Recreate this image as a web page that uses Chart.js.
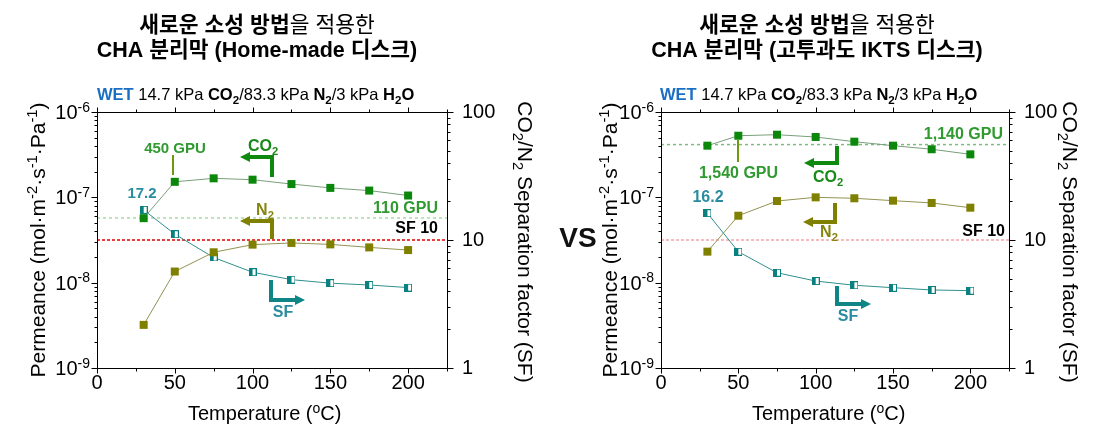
<!DOCTYPE html>
<html><head><meta charset="utf-8">
<script src="https://cdn.jsdelivr.net/npm/chart.js@4.4.1/dist/chart.umd.min.js"></script>
<style>
html,body{margin:0;padding:0;background:#fff;width:1107px;height:431px;overflow:hidden;}
canvas{position:absolute;top:0;}
#cL{left:0;}
#cR{left:560px;}
#vs{position:absolute;left:540px;top:222px;width:76px;text-align:center;font:bold 28px 'Liberation Sans',Arial,sans-serif;color:#111;}
</style></head>
<body>
<canvas id="cL" width="560" height="431"></canvas>
<canvas id="cR" width="547" height="431"></canvas>
<div id="vs">VS</div>
<script>
// ---------------- data ----------------
const temperatures = [30, 50, 75, 100, 125, 150, 175, 200];
// Home-made disc (left)
const homeCO2 = [5.7e-8, 1.52e-7, 1.67e-7, 1.61e-7, 1.43e-7, 1.29e-7, 1.20e-7, 1.05e-7];
const homeN2  = [3.2e-9, 1.35e-8, 2.27e-8, 2.79e-8, 2.92e-8, 2.81e-8, 2.59e-8, 2.41e-8];
const homeSF  = [17.2, 11.1, 7.3, 5.6, 4.9, 4.6, 4.45, 4.25];
// High-permeance IKTS disc (right)
const iktsCO2 = [4.03e-7, 5.27e-7, 5.42e-7, 5.09e-7, 4.49e-7, 4.03e-7, 3.66e-7, 3.19e-7];
const iktsN2  = [2.31e-8, 6.09e-8, 9.06e-8, 1.0e-7, 9.75e-8, 9.14e-8, 8.59e-8, 7.56e-8];
const iktsSF  = [16.2, 8.1, 5.55, 4.78, 4.43, 4.24, 4.07, 4.02];
// reference lines
const homeCO2Ref = 5.73e-8;
const iktsCO2Ref = 4.15e-7;
const sfRef = 10;
// ticks
const xTickValues = [0, 50, 100, 150, 200];
const xTickLabels = ['0', '50', '100', '150', '200'];
const permTickExps = [-9, -8, -7, -6];
const sfTickValues = [1, 10, 100];
const sfTickLabels = ['1', '10', '100'];
const xMax = 225;

// ---------------- helpers ----------------
const FAM = "'Liberation Sans', Arial, 'Noto Sans CJK KR', sans-serif";
function fnt(size, b) { return (b ? 'bold ' : '') + size + 'px ' + FAM; }
function drawRuns(ctx, runs, x, y, size, align, color) {
  const items = runs.map(r => {
    const sz = r.s ? size * 0.7 : size;
    const f = fnt(sz, r.b);
    ctx.font = f;
    return { r, f, w: ctx.measureText(r.t).width,
      dy: r.s === 'sub' ? size * 0.22 : r.s === 'sup' ? -size * 0.36 : 0 };
  });
  const W = items.reduce((s, i) => s + i.w, 0);
  let cx = align === 'center' ? x - W / 2 : align === 'right' ? x - W : x;
  ctx.textAlign = 'left'; ctx.textBaseline = 'alphabetic';
  for (const it of items) {
    ctx.font = it.f; ctx.fillStyle = it.r.c || color;
    ctx.fillText(it.r.t, cx, y + it.dy); cx += it.w;
  }
  return W;
}
function drawArrow(ctx, a, L, T) {
  const x = L + a.x, y0 = T + a.y0, y1 = T + a.y1, tip = L + a.tip;
  const dir = Math.sign(tip - x), head = 10, hw = 5;
  ctx.save();
  ctx.strokeStyle = a.c; ctx.fillStyle = a.c; ctx.lineWidth = 4;
  ctx.lineJoin = 'miter'; ctx.lineCap = 'butt';
  ctx.beginPath(); ctx.moveTo(x, y0); ctx.lineTo(x, y1); ctx.lineTo(tip - dir * head, y1); ctx.stroke();
  ctx.beginPath(); ctx.moveTo(tip, y1); ctx.lineTo(tip - dir * head, y1 - hw); ctx.lineTo(tip - dir * head, y1 + hw);
  ctx.closePath(); ctx.fill();
  ctx.restore();
}
function makeSFMarker() {
  const c = document.createElement('canvas'); c.width = 8; c.height = 8;
  const g = c.getContext('2d');
  g.fillStyle = '#0a8080'; g.fillRect(0, 0, 8, 8);
  g.fillStyle = '#ffffff'; g.fillRect(4, 1, 3, 6);
  return c;
}
const sfMarker = makeSFMarker();

const COL = {
  co2: '#0b870b', n2: '#808000', sf: '#0a8080',
  co2Line: '#7a9e7a', n2Line: '#929250', sfLine: '#2f8f8f',
  gpuText: '#2f9a2f', sfText: '#2a8ca0', co2Text: '#1a8a1a', n2Text: '#858510',
  co2Arrow: '#0f8a0f', n2Arrow: '#7f7f00', sfArrow: '#108585', callout: '#6c9a0a'
};

function makeDecor(cfg) {
  return {
    id: 'decor',
    afterDraw(chart) {
      const ctx = chart.ctx, a = chart.chartArea;
      const xs = chart.scales.x, yl = chart.scales.yL, yr = chart.scales.yR;
      const L = a.left, R = a.right, T = a.top, B = a.bottom;
      const px = v => Math.round(v) + 0.5;
      ctx.save();
      // frame & ticks
      ctx.strokeStyle = '#000'; ctx.lineWidth = 1;
      ctx.beginPath();
      ctx.rect(px(L), px(T), Math.round(R) - Math.round(L), Math.round(B) - Math.round(T));
      for (let v = 0; v <= xMax; v += 25) {
        const X = px(xs.getPixelForValue(v)), len = v % 50 === 0 ? 5 : 3;
        ctx.moveTo(X, px(B)); ctx.lineTo(X, px(B) + len);
        ctx.moveTo(X, px(T)); ctx.lineTo(X, px(T) - len);
      }
      for (let e = -9; e <= -6; e++) {
        for (let m = 1; m <= 9; m++) {
          if (e === -6 && m > 1) break;
          const Y = px(yl.getPixelForValue(m * Math.pow(10, e))), len = m === 1 ? 6 : 3;
          ctx.moveTo(px(L), Y); ctx.lineTo(px(L) - len, Y);
        }
      }
      for (let e = 0; e <= 2; e++) {
        for (let m = 1; m <= 9; m++) {
          if (e === 2 && m > 1) break;
          const Y = px(yr.getPixelForValue(m * Math.pow(10, e))), len = m === 1 ? 6 : 3;
          ctx.moveTo(px(R), Y); ctx.lineTo(px(R) + len, Y);
        }
      }
      ctx.stroke();
      // left tick labels 10^n
      for (const e of permTickExps) {
        const Y = yl.getPixelForValue(Math.pow(10, e));
        drawRuns(ctx, [{ t: '10' }, { t: String(e), s: 'sup' }], L - 7, Y + 7, 20, 'right', '#000');
      }
      // titles
      drawRuns(ctx, cfg.title1, cfg.titleX, 32, 21.5, 'center', '#000');
      drawRuns(ctx, cfg.title2, cfg.titleX, 57, 21.5, 'center', '#000');
      drawRuns(ctx, [
        { t: 'WET', b: 1, c: '#1a6fc4' }, { t: ' 14.7 kPa ' }, { t: 'CO', b: 1 }, { t: '2', b: 1, s: 'sub' },
        { t: '/83.3 kPa ' }, { t: 'N', b: 1 }, { t: '2', b: 1, s: 'sub' }, { t: '/3 kPa ' },
        { t: 'H', b: 1 }, { t: '2', b: 1, s: 'sub' }, { t: 'O', b: 1 }
      ], L + cfg.subX, 100, 16.5, 'left', '#000');
      // x title
      drawRuns(ctx, [{ t: 'Temperature (' }, { t: 'o', s: 'sup' }, { t: 'C)' }], L + 91, 420, 20, 'left', '#000');
      // left y title
      ctx.save();
      ctx.translate(L + cfg.yLTitleX, (T + B) / 2);
      ctx.rotate(-Math.PI / 2);
      drawRuns(ctx, [{ t: 'Permeance (mol·m' }, { t: '-2', s: 'sup' }, { t: '·s' }, { t: '-1', s: 'sup' },
        { t: '·Pa' }, { t: '-1', s: 'sup' }, { t: ')' }], 0, 0, 21, 'center', '#000');
      ctx.restore();
      // right y title
      ctx.save();
      ctx.translate(R + cfg.yRTitleX, (T + B) / 2 + 2);
      ctx.rotate(Math.PI / 2);
      drawRuns(ctx, [{ t: 'CO' }, { t: '2', s: 'sub' }, { t: '/N' }, { t: '2', s: 'sub' },
        { t: ' Separation factor (SF)' }], 0, 0, 21, 'center', '#000');
      ctx.restore();
      // annotations
      for (const c of cfg.callouts) {
        ctx.strokeStyle = c.c; ctx.lineWidth = 2;
        ctx.beginPath(); ctx.moveTo(L + c.x, T + c.y0); ctx.lineTo(L + c.x, T + c.y1); ctx.stroke();
      }
      for (const ar of cfg.arrows) drawArrow(ctx, ar, L, T);
      for (const lb of cfg.labels) drawRuns(ctx, lb.runs, L + lb.x, T + lb.y, lb.size || 15, lb.align || 'center', lb.c);
      ctx.restore();
    }
  };
}

function buildChart(id, co2, n2, sf, co2Ref, refColors, geom, cfg) {
  const pts = arr => temperatures.map((t, i) => ({ x: t, y: arr[i] }));
  return new Chart(document.getElementById(id), {
    type: 'line',
    data: {
      datasets: [
        { data: pts(co2), yAxisID: 'yL', borderColor: COL.co2Line, borderWidth: 1, pointStyle: 'rect',
          pointRadius: 5.66, pointBackgroundColor: COL.co2, pointBorderWidth: 0, tension: 0 },
        { data: pts(n2), yAxisID: 'yL', borderColor: COL.n2Line, borderWidth: 1, pointStyle: 'rect',
          pointRadius: 5.66, pointBackgroundColor: COL.n2, pointBorderWidth: 0, tension: 0 },
        { data: pts(sf), yAxisID: 'yR', borderColor: COL.sfLine, borderWidth: 1, pointStyle: sfMarker,
          pointRadius: 4, pointBorderWidth: 0, tension: 0 },
        { data: [{ x: 0, y: co2Ref }, { x: xMax, y: co2Ref }], yAxisID: 'yL', borderColor: refColors[0],
          borderWidth: 1.5, borderDash: [3, 3], pointRadius: 0 },
        { data: [{ x: 0, y: sfRef }, { x: xMax, y: sfRef }], yAxisID: 'yR', borderColor: refColors[1],
          borderWidth: 1.5, borderDash: [3, 2], pointRadius: 0 }
      ]
    },
    options: {
      responsive: false, animation: false, events: [],
      layout: { padding: { top: 112, left: 0, right: 0, bottom: 0 } },
      plugins: { legend: { display: false }, tooltip: { enabled: false } },
      scales: {
        x: { type: 'linear', min: 0, max: xMax,
          grid: { display: false, drawTicks: false }, border: { display: false },
          afterBuildTicks: s => { s.ticks = xTickValues.map(v => ({ value: v })); },
          ticks: { color: '#000', font: { family: FAM, size: 20 }, padding: 3, maxRotation: 0,
            callback: (v, i) => xTickLabels[i] },
          afterFit: s => { s.height = 63; } },
        yL: { type: 'logarithmic', position: 'left', min: 1e-9, max: 1e-6,
          grid: { display: false, drawTicks: false }, border: { display: false },
          ticks: { display: false },
          afterFit: s => { s.width = geom.yL; } },
        yR: { type: 'logarithmic', position: 'right', min: 1, max: 100,
          grid: { display: false, drawTicks: false }, border: { display: false },
          afterBuildTicks: s => { s.ticks = sfTickValues.map(v => ({ value: v })); },
          ticks: { color: '#000', font: { family: FAM, size: 20 }, padding: 15,
            callback: (v, i) => sfTickLabels[i] },
          afterFit: s => { s.width = geom.yR; } }
      }
    },
    plugins: [makeDecor(cfg)]
  });
}

// left chart
buildChart('cL', homeCO2, homeN2, homeSF, homeCO2Ref, ['#a6dca6', '#e00000'], { yL: 97, yR: 113 }, {
  titleX: 257, subX: 0, yLTitleX: -52, yRTitleX: 71,
  title1: [{ t: '새로운 소성 방법', b: 1 }, { t: '을 적용한' }],
  title2: [{ t: 'CHA 분리막 (Home-made 디스크)', b: 1 }],
  arrows: [
    { x: 175, y0: 65, y1: 45, tip: 143, c: COL.co2Arrow },
    { x: 175, y0: 127, y1: 109, tip: 143, c: COL.n2Arrow },
    { x: 174, y0: 168, y1: 188, tip: 208, c: COL.sfArrow }
  ],
  callouts: [{ x: 76, y0: 43, y1: 63, c: COL.callout }],
  labels: [
    { runs: [{ t: 'CO', b: 1 }, { t: '2', b: 1, s: 'sub' }], x: 166, y: 39, c: COL.co2Text, size: 16 },
    { runs: [{ t: 'N', b: 1 }, { t: '2', b: 1, s: 'sub' }], x: 168, y: 103, c: COL.n2Text, size: 16 },
    { runs: [{ t: 'SF', b: 1 }], x: 186, y: 205, c: COL.sfText, size: 16 },
    { runs: [{ t: '450 GPU', b: 1 }], x: 78, y: 41, c: COL.gpuText },
    { runs: [{ t: '17.2', b: 1 }], x: 45, y: 86, c: COL.sfText },
    { runs: [{ t: '110 GPU', b: 1 }], x: 341, y: 101, c: COL.gpuText, align: 'right', size: 16 },
    { runs: [{ t: 'SF 10', b: 1 }], x: 341, y: 121, c: '#000', align: 'right', size: 16 }
  ]
});

// right chart
buildChart('cR', iktsCO2, iktsN2, iktsSF, iktsCO2Ref, ['#7cbc7c', '#f6a4a4'], { yL: 101, yR: 98 }, {
  titleX: 257, subX: -1, yLTitleX: -44, yRTitleX: 54,
  title1: [{ t: '새로운 소성 방법', b: 1 }, { t: '을 적용한' }],
  title2: [{ t: 'CHA 분리막 (고투과도 IKTS 디스크)', b: 1 }],
  arrows: [
    { x: 176, y0: 34, y1: 51, tip: 143, c: COL.co2Arrow },
    { x: 174, y0: 91, y1: 110, tip: 142, c: COL.n2Arrow },
    { x: 176, y0: 174, y1: 192, tip: 210, c: COL.sfArrow }
  ],
  callouts: [{ x: 77, y0: 28, y1: 50, c: COL.callout }],
  labels: [
    { runs: [{ t: 'CO', b: 1 }, { t: '2', b: 1, s: 'sub' }], x: 167, y: 70, c: COL.co2Text, size: 16 },
    { runs: [{ t: 'N', b: 1 }, { t: '2', b: 1, s: 'sub' }], x: 168, y: 125, c: COL.n2Text, size: 16 },
    { runs: [{ t: 'SF', b: 1 }], x: 187, y: 209, c: COL.sfText, size: 16 },
    { runs: [{ t: '1,540 GPU', b: 1 }], x: 77.5, y: 66, c: COL.gpuText, size: 16 },
    { runs: [{ t: '1,140 GPU', b: 1 }], x: 342, y: 27, c: COL.gpuText, align: 'right', size: 16 },
    { runs: [{ t: '16.2', b: 1 }], x: 47, y: 90, c: COL.sfText, size: 16 },
    { runs: [{ t: 'SF 10', b: 1 }], x: 344, y: 124, c: '#000', align: 'right', size: 16 }
  ]
});
</script>
</body></html>
